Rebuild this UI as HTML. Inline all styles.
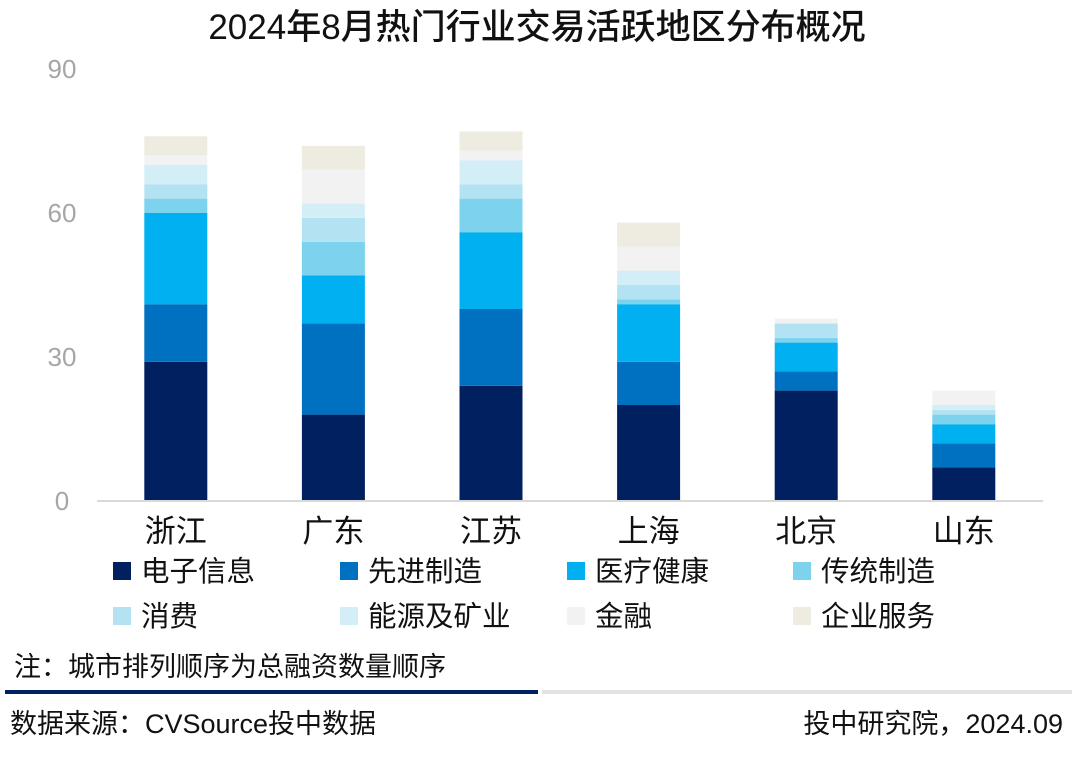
<!DOCTYPE html>
<html><head><meta charset="utf-8"><style>
body{margin:0;width:1080px;height:773px;background:#fff;overflow:hidden;font-family:"Liberation Sans","Noto Sans CJK SC",sans-serif}
svg text{font-family:"Liberation Sans","Noto Sans CJK SC",sans-serif}
</style></head><body>
<svg id="c" width="1080" height="773">
<text x="537" y="39" text-anchor="middle" font-size="35" font-weight="500" fill="#111">2024年8月热门行业交易活跃地区分布概况</text>
<g id="yaxis"></g>
<g id="bars"></g>
<line x1="97" y1="501" x2="1043" y2="501" stroke="#d9d9d9" stroke-width="2"/>
<g id="xaxis"></g>
<g id="legend"></g>
<text x="14" y="676" font-size="27" fill="#111">注：城市排列顺序为总融资数量顺序</text>
<rect x="5" y="690" width="533" height="4" fill="#002060"/>
<rect x="542" y="690" width="530" height="4" fill="#e3e3e3"/>
<text x="10" y="733" font-size="27" fill="#111">数据来源：CVSource投中数据</text>
<text x="1063" y="733" font-size="27" fill="#111" text-anchor="end">投中研究院，2024.09</text>
</svg>
<script>
const categories=["浙江","广东","江苏","上海","北京","山东"];
const seriesNames=["电子信息","先进制造","医疗健康","传统制造","消费","能源及矿业","金融","企业服务"];
const s1=[29,18,24,20,23,7];
const s2=[12,19,16,9,4,5];
const s3=[19,10,16,12,6,4];
const s4=[3,7,7,1,1,2];
const s5=[3,5,3,3,3,1];
const s6=[4,3,5,3,0,1];
const s7=[2,7,2,5,1,3];
const s8=[4,5,4,5,0,0];
const yTicks=[0,30,60,90];
const series=[s1,s2,s3,s4,s5,s6,s7,s8];
const colors=["#002060","#0070C0","#00B0F0","#7DD3EE","#B3E3F3","#D4EEF7","#F2F2F2","#EEECE1"];
const NS="http://www.w3.org/2000/svg";
const y=v=>501-v*4.8;
const x0=97,step=157.6,bw=63;
const xc=i=>x0+step*(i+0.5);
function mk(t,a,p){const e=document.createElementNS(NS,t);for(const k in a)e.setAttribute(k,a[k]);p.appendChild(e);return e;}
const ya=document.getElementById('yaxis');
yTicks.forEach(t=>{const e=mk('text',{x:62,y:y(t)+9,'text-anchor':'middle','font-size':26,fill:'#a6a6a6'},ya);e.textContent=t;

});
const bg=document.getElementById('bars');
categories.forEach((c,i)=>{let acc=0;series.forEach((s,j)=>{const v=s[i];if(v<=0)return;
const r=mk('rect',{x:xc(i)-bw/2,y:y(acc+v),width:bw,height:v*4.8,fill:colors[j]},bg);


acc+=v;});});
const xa=document.getElementById('xaxis');
categories.forEach((c,i)=>{const e=mk('text',{x:xc(i),y:542,'text-anchor':'middle','font-size':31,fill:'#111'},xa);e.textContent=c;

});
const lg=document.getElementById('legend');
const lx=[113,340,567,793];
seriesNames.forEach((n,j)=>{const cx=lx[j%4],cy=j<4?571:616;
const r=mk('rect',{x:cx,y:cy-9,width:18,height:18,fill:colors[j]},lg);


const t=mk('text',{x:cx+28,y:cy+10,'font-size':28.5,fill:'#111'},lg);t.textContent=n;

});
</script>
</body></html>
